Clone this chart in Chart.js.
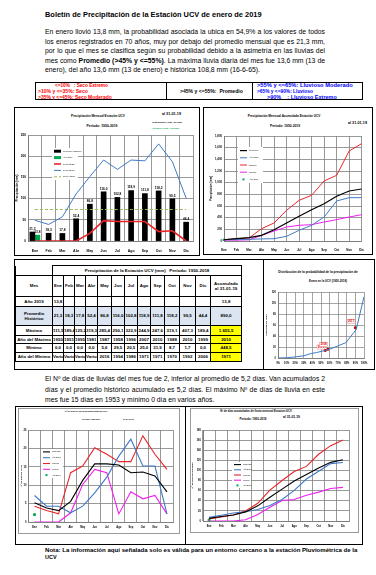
<!DOCTYPE html>
<html lang="es">
<head>
<meta charset="utf-8">
<script src="https://cdn.jsdelivr.net/npm/chart.js@4.4.1/dist/chart.umd.min.js"></script>
<style>
  html,body{margin:0;padding:0;background:#fff;}
  body{width:376px;height:575px;position:relative;overflow:hidden;font-family:"Liberation Sans",Arial,sans-serif;color:#000;}
  .frame{position:absolute;border:1px solid #000;box-sizing:border-box;}
  .inner{position:absolute;border:1px solid #9a9a9a;box-sizing:border-box;}
  .vl{position:absolute;width:1px;background:#000;}
  .txt{position:absolute;white-space:nowrap;line-height:1;}
  .pl{position:absolute;text-align:justify;text-align-last:justify;white-space:nowrap;}
  canvas{position:absolute;}
  #tbl{position:absolute;left:15px;top:265px;border-collapse:collapse;table-layout:fixed;
       font:bold 4.4px "Liberation Sans Narrow","Liberation Sans",Arial,sans-serif;}
  #tbl td{border:1px solid #000;padding:0;text-align:center;line-height:1.15;overflow:hidden;white-space:nowrap;}
  #tbl tr.azul td{background:#dbe4f0;}
  #tbl td.amar{background:#ffff00;}
</style>
</head>
<body>

<div class="frame" style="left:35px;top:82px;width:328px;height:18px"></div>
<div class="vl" style="left:166px;top:82px;height:18px"></div>
<div class="vl" style="left:252px;top:82px;height:18px"></div>

<div class="frame" style="left:14px;top:107px;width:186px;height:149px"></div>
<div class="frame" style="left:203px;top:107px;width:170px;height:148px"></div>
<div class="frame" style="left:14px;top:259px;width:361px;height:111px"></div>
<div class="vl" style="left:263px;top:259px;height:111px"></div>
<div class="frame" style="left:15px;top:406px;width:348px;height:139px"></div>
<div class="vl" style="left:185px;top:406px;height:139px"></div>
<div class="inner" style="left:18px;top:408px;width:162px;height:126px"></div>
<div class="inner" style="left:190px;top:408px;width:169px;height:125px"></div>

<canvas id="c-mensual"></canvas>
<canvas id="c-acum"></canvas>
<canvas id="c-prob"></canvas>
<canvas id="c-dias"></canvas>
<canvas id="c-dias-acum"></canvas>
<table id="tbl"></table>

<script>
const MESES = ['Ene','Feb','Mar','Abr','May','Jun','Jul','Ago','Sep','Oct','Nov','Dic'];

// precipitación mensual (mm), período 1950-2019
const PROM_MES    = [21.3,18.3,17.8,52.4,86.8,116.0,102.8,118.9,111.8,118.2,99.5,44.4];
const LLUVIA_2019 = [13.8,null,null,null,null,null,null,null,null,null,null,null];
const LINEA_ROJA  = [0,0,0,0,18,48,46,46,46,22,24,0];
const LINEA_AZUL  = [49,39,57,111,152,191,169,191,189,229,187,101];
const PROM_ANUAL  = [74.2,74.2,74.2,74.2,74.2,74.2,74.2,74.2,74.2,74.2,74.2,74.2];

// precipitación acumulada (mm)
const ACUM_PROM    = [21,40,57,97,194,309,423,537,640,766,857,891];
const ACUM_AZUL    = [20,25,30,35,40,80,183,269,411,686,743,743];
const ACUM_MAX     = [23,40,51,211,309,526,697,783,1029,1126,1543,1669];
const ACUM_MIN     = [15,15,20,97,171,240,269,280,326,366,411,451];
const ACUM_2019    = [13.8];

// tabla
const MAXIMO   = [111.5,189.4,125.2,319.3,285.4,290.1,322.9,244.9,247.6,319.1,407.3,189.4];
const ANIO_MAX = ['1950','1951','1995','1981','1987','1958','1996','2007','2010','1988','2010','1999'];
const MINIMO   = [0.0,0.0,0.0,0.0,5.6,29.5,20.5,25.0,31.9,8.7,1.7,0.0];
const ANIO_MIN = ['Varios','Varios','Varios','Varios','2016','1994','1986','1971','1971','1970','1992','2006'];
const ACUM_TABLA = ['13,8','890,0','1.655,5','2010','448,5','1971'];

// distribución de probabilidad de enero
const PROB      = [0,10,20,30,38,45,54.9,60,65,79,91,100];
const PROB_MM   = [0,0.5,2,4,8,10,13.8,16,19,28,52,111.5];
const PUNTOS_PROB = [54.9,58,90];
const PUNTOS_MM   = [13.8,16,55];
const PUNTOS_ANIO = ['2019','2018','2017'];
const PROB_TICKS  = [0,10,20,30,40,50,60,70,80,90,100];

// días de lluvia
const DIAS_PROM    = [5.2,3.8,3.1,5.6,11.3,15.8,15.8,15.5,13.4,13.6,12.5,8.2];
const DIAS_AZUL    = [7.2,4.3,4.3,2.5,4.3,7.9,12.2,17.9,22.5,15.2,15.2,2.2];
const DIAS_ROJO    = [4.3,3.1,2.2,13.4,15.2,20.2,18.4,16.4,16.4,23.4,18.4,14.3];
const DIAS_MAGENTA = [0,0,0,2.5,10.2,14.3,13.4,2.2,8.2,6.3,7.2,2.2];
const DIAS_2019    = [2];

const DACUM_PROM    = [5.2,9,12,18,30,47,63,79,92,105,116,121];
const DACUM_AZUL    = [7.2,11.5,15.8,18.3,22.6,30.5,42.7,60.6,83.1,98.3,113.5,115.7];
const DACUM_ROJO    = [4,8,12,20,35,61,80,98,108,132,149,160];
const DACUM_MAGENTA = [0,0,0,2.5,12.7,27,40.4,42.6,50.8,57.1,64.3,66.5];
const DACUM_2019    = [2];

const FN = '"Liberation Sans Narrow","Liberation Sans",Arial,sans-serif';
const FS = '"Liberation Sans",Arial,sans-serif';
const GRIS = '#7f7f7f', AZUL = '#3f7ac6', ROJO = '#e8252a', MAG = '#f020f0', VERDE = '#00a84f';

const fmt = v => v == null ? '' : v.toFixed(1).replace('.', ',');

function _t(str, x, y, o = {}) {
  const d = document.createElement('div');
  d.className = 'txt';
  d.innerHTML = str;
  d.style.font = `${o.w || 'normal'} ${o.s || 5}px ${o.f || FS}`;
  d.style.color = o.c || '#000';
  d.style.left = x + 'px';
  d.style.top = y + 'px';
  d.style.transform = o.a === 'c' ? 'translate(-50%,-50%)' : 'translateY(-50%)';
  document.body.appendChild(d);
  if (o.fit) {
    const w = d.getBoundingClientRect().width;
    d.style.fontSize = ((o.s || 5) * o.fit / w) + 'px';
  }
  return d;
}

function _para(lines, x, y0, dy, width, lastJust) {
  const els = lines.map((l, i) => {
    const d = document.createElement('div');
    d.className = 'pl';
    d.innerHTML = `<span>${l}</span>`;
    d.style.cssText += `left:${x}px;top:${y0 + i*dy - 5}px;height:10px;line-height:10px;font-size:10px;`;
    document.body.appendChild(d);
    return d;
  });
  const maxW = Math.max(...els.map(d => d.firstChild.getBoundingClientRect().width));
  const fs = 10 * width / maxW * 0.998;
  els.forEach((d, i) => {
    d.style.fontSize = fs + 'px';
    d.innerHTML = d.firstChild.innerHTML;
    d.style.width = width + 'px';
    if (i === els.length - 1 && !lastJust) d.style.textAlignLast = 'left';
  });
}

// ---------- textos ----------
_t('Boletín de Precipitación de la Estación UCV de enero de 2019', 45, 14, { w:'bold', s:7, fit:217 });
_para([
  'En enero llovió 13,8 mm, la probabilidad asociada la ubica en 54,9% a los valores de todos',
  'los eneros registrados en 70 años, muy por debajo del promedio mensual que es 21,3 mm,',
  'por lo que el mes se clasifica según su probabilidad debido a la asimetría en las lluvias del',
  'mes como <b>Promedio (&gt;45% y &lt;=55%)</b>. La máxima lluvia diaria del mes fue 13,6 mm (13 de',
  'enero), del año 13,6 mm (13 de enero) e histórica 108,8 mm (16-6-65).'
], 45, 32, 9.5, 280);

_t('&lt;=10%&nbsp;&nbsp;&nbsp;: Seco Extremo', 55, 85, { w:'bold', s:4.5, c:'#ff0000', fit:53 });
_t('&gt;10% y &lt;=35%: Seco', 38, 91, { w:'bold', s:4.5, c:'#ff0000', fit:50 });
_t('&gt;35% y &lt;=45%: Seco Moderado', 38, 97, { w:'bold', s:4.5, c:'#ff0000', fit:74 });
_t('&gt;45% y &lt;=55%:&nbsp;&nbsp;Promedio', 180, 91, { w:'bold', s:4.5, fit:63 });
_t('&gt;55% y &lt;=65%: Lluvioso Moderado', 257, 85, { w:'bold', s:4.5, c:'#0000ff', fit:96 });
_t('&gt;65% y &lt;=90%: Lluvioso', 257, 91, { w:'bold', s:4.5, c:'#0000ff', fit:56 });
_t('&gt;90%&nbsp;&nbsp;&nbsp;&nbsp;: Lluvioso Extremo', 267, 97, { w:'bold', s:4.5, c:'#0000ff', fit:70 });

_t('Precipitación Mensual Estación UCV', 98, 116, { w:'bold', s:4, f:FN, a:'c', fit:54 });
_t('Período: 1950-2019', 102, 126, { w:'bold', s:4, f:FN, a:'c', fit:31 });
_t('al 31-01-19', 162, 114, { w:'bold', s:3.6, f:FN, fit:19 });
_t('Prom.Mensual Acum.: 21,3 mm', 152, 122, { w:'bold', s:2.6, f:FN, fit:30 });
_t('Año 2019 Acum.: 13,8 mm', 152, 128, { w:'bold', s:2.6, f:FN, c:VERDE, fit:27 });

_t('Precipitación Mensual Acumulada Estación UCV', 284, 116, { w:'bold', s:4, f:FN, a:'c', fit:73 });
_t('Período: 1950-2019', 285, 126, { w:'bold', s:4, f:FN, a:'c', fit:30 });
_t('al 31-01-19', 348, 123, { w:'bold', s:3.6, f:FN, fit:19 });

_t('Distribución de la probabilidad de la precipitación de', 318, 272, { w:'bold', s:3, f:FN, a:'c', fit:80 });
_t('Enero en la UCV (1950-2018)', 328, 281, { w:'bold', s:3, f:FN, a:'c', fit:38 });

_para([
  'El Nº de días de lluvias del mes fue de 2, inferior al promedio de 5,2 días. Van acumulados 2',
  'días y el promedio histórico acumulado es 5,2 días. El máximo Nº de días de lluvia en este',
  'mes fue 15 días en 1953 y mínimo 0 día en varios años.'
], 45, 379, 10.5, 280);

_t('Nº de días de lluvia mensual Estación UCV', 86, 411, { w:'bold', s:3.3, f:FN, a:'c', fit:43 });
_t('Período: 1950-2019', 91, 419, { w:'bold', s:3.3, f:FN, a:'c', fit:18 });
_t('al 31-01-19', 123, 419, { w:'bold', s:3.3, f:FN, fit:11 });
_t('Nº de días acumulados de lluvia mensual Estación UCV', 256, 411, { w:'bold', s:3.3, f:FN, a:'c', fit:72 });
_t('Período: 1950-2019', 253, 419, { w:'bold', s:3.3, f:FN, a:'c', fit:27 });
_t('al 31-01-19', 283, 417, { w:'bold', s:3.3, f:FN, fit:17 });

_t('Nota: La información aquí señalada solo es válida para un entorno cercano a la estación Pluviométrica de la', 45, 549, { w:'bold', s:5.5, fit:313 });
_t('UCV', 45, 557, { w:'bold', s:5.5 });

// ---------- tabla ----------
function _tabla() {
  const anchos = [37,11,11,11,12,14,13,13,13,14,15,16,15,31];
  const celdas = arr => arr.map(v => `<td>${v}</td>`).join('');
  const filas = [
    ['Año 2019', LLUVIA_2019.map(fmt), ACUM_TABLA[0], 10, ''],
    ['Promedio<br>Histórico', PROM_MES.map(fmt), ACUM_TABLA[1], 19, 'azul'],
    ['Máximo', MAXIMO.map(fmt), ACUM_TABLA[2], 10, ''],
    ['Año del Máximo', ANIO_MAX, ACUM_TABLA[3], 8.7, ''],
    ['Mínimo', MINIMO.map(fmt), ACUM_TABLA[4], 8.3, ''],
    ['Año del Mínimo', ANIO_MIN, ACUM_TABLA[5], 9.4, '']
  ];
  let html = '<colgroup>' + anchos.map(w => `<col style="width:${w}px">`).join('') + '</colgroup>';
  html += `<tr style="height:10px"><td style="border-top:none"></td><td colspan="13">Precipitación de la Estación UCV (mm)&nbsp;&nbsp;&nbsp;Período: 1950-2018</td></tr>`;
  html += `<tr style="height:20.6px"><td>Mes</td>${celdas(MESES)}<td>Acumulado<br>al 31-01-19</td></tr>`;
  filas.forEach(([n, vals, acum, h, cls], i) => {
    const amar = i >= 2 ? ' class="amar"' : '';
    html += `<tr class="${cls}" style="height:${h}px"><td>${n}</td>${celdas(vals)}<td${amar}>${acum}</td></tr>`;
  });
  const t = document.getElementById('tbl');
  t.style.width = anchos.reduce((a, b) => a + b, 0) + 'px';
  t.innerHTML = html;
}
_tabla();

// ---------- plugins ----------
const barLabels = {
  id: 'barLabels',
  afterDatasetsDraw(chart, args, o) {
    const ctx = chart.ctx;
    ctx.save();
    ctx.font = `bold ${o.size}px ${FN}`;
    ctx.textAlign = 'center';
    ctx.textBaseline = 'bottom';
    ctx.fillStyle = '#000';
    chart.data.datasets.forEach((ds, i) => {
      if (ds.type !== 'bar') return;
      chart.getDatasetMeta(i).data.forEach((el, j) => {
        const v = ds.data[j];
        if (v == null) return;
        ctx.fillText(fmt(v), el.x, el.y - 1.5);
      });
    });
    ctx.restore();
  }
};

const boxLegend = {
  id: 'boxLegend',
  afterDraw(chart, args, o) {
    if (!o || o.w == null) return;
    const ctx = chart.ctx, dss = chart.data.datasets.filter(d => !d.noLegend);
    const rh = o.h / dss.length;
    ctx.save();
    ctx.fillStyle = '#fff';
    ctx.fillRect(o.x, o.y, o.w, o.h);
    dss.forEach((ds, i) => {
      const cy = o.y + rh * (i + 0.5), x0 = o.x + 2;
      if (ds.type === 'bar') {
        ctx.fillStyle = ds.backgroundColor;
        ctx.fillRect(x0, cy - 1.5, 7, 3);
      } else if (ds.showLine === false) {
        ctx.fillStyle = ds.pointBackgroundColor;
        ctx.fillRect(x0 + 2.5, cy - 1, 2, 2);
      } else {
        ctx.strokeStyle = ds.borderColor;
        ctx.lineWidth = ds.borderWidth;
        ctx.setLineDash(ds.borderDash || []);
        ctx.beginPath(); ctx.moveTo(x0, cy); ctx.lineTo(x0 + 7, cy); ctx.stroke();
        ctx.setLineDash([]);
      }
      ctx.fillStyle = '#000';
      ctx.font = `${o.size}px ${FN}`;
      ctx.textBaseline = 'middle';
      ctx.fillText(ds.label, x0 + 9, cy);
    });
    ctx.restore();
  }
};

const pointTags = {
  id: 'pointTags',
  afterDatasetsDraw(chart, args, o) {
    const ctx = chart.ctx;
    chart.data.datasets.forEach((ds, i) => {
      if (!ds.tags) return;
      chart.getDatasetMeta(i).data.forEach((el, j) => {
        ctx.save();
        ctx.font = `bold ${o.size}px ${FN}`;
        const w = ctx.measureText(ds.tags[j]).width + 1.5;
        const x = el.x - w - 0.5, y = el.y - 5.5 - j * 1.5;
        ctx.fillStyle = '#fff';
        ctx.fillRect(x, y, w, 4.2);
        ctx.strokeStyle = '#e88';
        ctx.lineWidth = 0.5;
        ctx.strokeRect(x, y, w, 4.2);
        ctx.fillStyle = '#e00000';
        ctx.textBaseline = 'middle';
        ctx.fillText(ds.tags[j], x + 0.75, y + 2.2);
        ctx.restore();
      });
    });
  }
};

// ---------- helper de gráficos ----------
function _mkChart(id, box, area, yw, xh, cfg) {
  const cv = document.getElementById(id);
  cv.width = box.w; cv.height = box.h;
  cv.style.left = box.x + 'px'; cv.style.top = box.y + 'px';
  cv.style.width = box.w + 'px'; cv.style.height = box.h + 'px';
  cfg.options.layout = { padding: {
    left: area.l - box.x - yw, top: area.t - box.y,
    right: box.x + box.w - area.r, bottom: box.y + box.h - area.b - xh } };
  cfg.options.responsive = false;
  cfg.options.animation = false;
  cfg.options.maintainAspectRatio = false;
  cfg.options.scales.x.afterFit = s => { s.height = xh; };
  cfg.options.scales.y.afterFit = s => { s.width = yw; };
  return new Chart(cv, cfg);
}

const tickY = (sz, extra = {}) => Object.assign({ font:{ size:sz, family:FN, weight:'bold' }, color:'#000', padding:2 }, extra);
const gridY = { color:GRIS, lineWidth:0.8, drawTicks:false };
const yTitle = (txt, sz) => ({ display:true, text:txt, color:'#000', padding:0, font:{ size:sz, family:FN, weight:'bold' } });
const lineDs = (label, data, color, width = 1, extra = {}) =>
  Object.assign({ type:'line', label, data, borderColor:color, backgroundColor:color, borderWidth:width,
                  pointRadius:0, tension:0, fill:false, order:1 }, extra);
const xCat = (sz, pad, offset) => ({ offset, grid:{ color:GRIS, lineWidth:0.8, drawTicks:false, offset },
  border:{ color:GRIS }, ticks:{ font:{ size:sz, family:FN, weight:'bold' }, color:'#000', padding:pad, autoSkip:false, maxRotation:0 } });

// ---------- gráfico 1: precipitación mensual ----------
_mkChart('c-mensual', { x:15, y:131, w:183, h:123 }, { l:28, t:135, r:193, b:241 }, 13, 13, {
  type: 'bar',
  data: {
    labels: MESES,
    datasets: [
      { type:'bar', label:'Promedio Histórico', data:PROM_MES, backgroundColor:'#000', order:2, barThickness:5, skipNull:true },
      { type:'bar', label:'Año 2019', data:LLUVIA_2019, backgroundColor:VERDE, order:2, barThickness:5, skipNull:true },
      lineDs('Percentil 25', LINEA_ROJA, ROJO, 1.6),
      lineDs('Percentil 75', LINEA_AZUL, AZUL, 1),
      lineDs('Prom. anual', PROM_ANUAL, '#9bbb59', 1, { borderDash:[3,2] })
    ]
  },
  options: {
    plugins: { legend:{ display:false }, tooltip:{ enabled:false },
               barLabels:{ size:3.2 }, boxLegend:{ x:37, y:17, w:26, h:32, size:2.2 } },
    scales: {
      x: xCat(3.5, 8, true),
      y: { min:0, max:250, ticks:tickY(3.2, { stepSize:50 }), grid:gridY, border:{ color:GRIS },
           title: yTitle('Precipitación (mm)', 3) }
    }
  },
  plugins: [barLabels, boxLegend]
});

// ---------- gráfico 2: precipitación acumulada ----------
_mkChart('c-acum', { x:205, y:131, w:166, h:122 }, { l:224, t:135, r:362, b:241 }, 14, 12, {
  type: 'line',
  data: {
    labels: MESES,
    datasets: [
      lineDs('Promedio', ACUM_PROM, '#000', 1.2),
      lineDs('Año 2018', ACUM_AZUL, AZUL, 1),
      lineDs('Máximo', ACUM_MAX, ROJO, 1),
      lineDs('Mínimo', ACUM_MIN, MAG, 1),
      lineDs('Año 2019', ACUM_2019, VERDE, 1, { showLine:false, pointRadius:1.4, pointStyle:'rect', pointBackgroundColor:VERDE })
    ]
  },
  options: {
    plugins: { legend:{ display:false }, tooltip:{ enabled:false }, boxLegend:{ x:33, y:16, w:25, h:36, size:2.2 } },
    scales: {
      x: xCat(3, 7, false),
      y: { min:0, max:1800, ticks:tickY(2.8, { stepSize:200 }), grid:gridY, border:{ color:GRIS },
           title: yTitle('Precipitación (mm)', 2.8) }
    }
  },
  plugins: [boxLegend]
});

// ---------- gráfico 3: distribución de probabilidad ----------
_mkChart('c-prob', { x:264, y:286, w:108, h:82 }, { l:278, t:292, r:364, b:358 }, 13, 9, {
  type: 'line',
  data: {
    datasets: [
      lineDs('Enero', PROB.map((p, i) => ({ x:p, y:PROB_MM[i] })), AZUL, 1),
      lineDs('Años', PUNTOS_PROB.map((p, i) => ({ x:p, y:PUNTOS_MM[i] })), '#c00000', 1,
             { showLine:false, pointRadius:1.3, pointStyle:'rect', pointBackgroundColor:'#c00000', tags:PUNTOS_ANIO })
    ]
  },
  options: {
    plugins: { legend:{ display:false }, tooltip:{ enabled:false }, pointTags:{ size:2.8 } },
    scales: {
      x: { type:'linear', min:0, max:100, afterBuildTicks: s => { s.ticks = PROB_TICKS.map(v => ({ value:v })); },
           grid:{ color:GRIS, lineWidth:0.7, drawTicks:false }, border:{ color:GRIS },
           ticks:{ font:{ size:2.6, family:FN, weight:'bold' }, color:'#000', padding:4, maxRotation:0, autoSkip:false, callback: v => v + '%' } },
      y: { min:0, max:120, ticks:tickY(2.6, { stepSize:20 }), grid:{ color:GRIS, lineWidth:0.7, drawTicks:false },
           border:{ color:GRIS }, title: yTitle('Precipitación (mm)', 2.4) }
    }
  },
  plugins: [pointTags]
});

// ---------- gráfico 4: días de lluvia mensual ----------
_mkChart('c-dias', { x:19, y:425, w:159, h:108 }, { l:28.5, t:429, r:178, b:522 }, 9, 9, {
  type: 'line',
  data: {
    labels: MESES,
    datasets: [
      lineDs('Promedio', DIAS_PROM, '#000', 1.1),
      lineDs('Año 2018', DIAS_AZUL, AZUL, 1.1),
      lineDs('Máximo', DIAS_ROJO, ROJO, 1.1),
      lineDs('Mínimo', DIAS_MAGENTA, MAG, 1.1),
      lineDs('Año 2019', DIAS_2019, VERDE, 1, { showLine:false, pointRadius:1.3, pointStyle:'rect', pointBackgroundColor:VERDE })
    ]
  },
  options: {
    plugins: { legend:{ display:false }, tooltip:{ enabled:false }, boxLegend:{ x:22, y:24, w:22, h:29, size:2 } },
    scales: {
      x: xCat(2.6, 4, true),
      y: { min:0, max:25, ticks:tickY(2.6, { stepSize:5 }), grid:gridY, border:{ color:GRIS },
           title: yTitle('Nº de días de lluvia', 2.4) }
    }
  },
  plugins: [boxLegend]
});

// ---------- gráfico 5: días acumulados ----------
_mkChart('c-dias-acum', { x:191, y:425, w:166, h:107 }, { l:203, t:429, r:349, b:521 }, 12, 9, {
  type: 'line',
  data: {
    labels: MESES,
    datasets: [
      lineDs('Promedio', DACUM_PROM, '#000', 1.1),
      lineDs('Año 2018', DACUM_AZUL, AZUL, 1.1),
      lineDs('Máximo', DACUM_ROJO, ROJO, 1.1),
      lineDs('Mínimo', DACUM_MAGENTA, MAG, 1.1),
      lineDs('Año 2019', DACUM_2019, VERDE, 1, { showLine:false, pointRadius:1.3, pointStyle:'rect', pointBackgroundColor:VERDE })
    ]
  },
  options: {
    plugins: { legend:{ display:false }, tooltip:{ enabled:false }, boxLegend:{ x:41, y:37, w:19, h:26, size:2 } },
    scales: {
      x: xCat(2.6, 4, true),
      y: { min:0, max:180, ticks:tickY(2.6, { stepSize:20 }), grid:gridY, border:{ color:GRIS },
           title: yTitle('Nº de días acumulados', 2.4) }
    }
  },
  plugins: [boxLegend]
});
</script>
</body>
</html>
